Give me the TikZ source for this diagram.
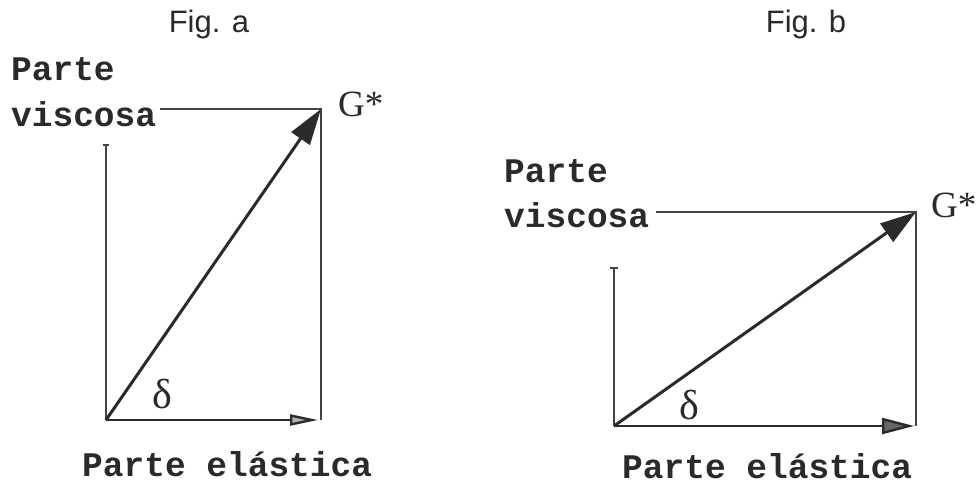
\documentclass[tikz,border=0pt]{standalone}
\usepackage{fontspec}
\setmainfont{Liberation Serif}
\newfontfamily\monof{Liberation Mono}
\newfontfamily\sansf{Liberation Sans}
\usetikzlibrary{arrows.meta,calc}
\definecolor{ink}{HTML}{2A2A2A}
\definecolor{thin}{HTML}{444444}
\begin{document}
\begin{tikzpicture}[x=1pt,y=-1pt,
  monolabel/.style={font=\monof\bfseries\fontsize{34.5}{38}\selectfont, text=ink, inner sep=0pt, anchor=base west},
  figlabel/.style={font=\sansf\fontsize{31}{34}\selectfont, text=ink, inner sep=0pt},
  gstar/.style={font=\fontsize{37}{40}\selectfont, text=ink, inner sep=0pt, anchor=base west},
  delta/.style={font=\fontsize{42}{44}\selectfont, text=ink, inner sep=0pt},
  guide/.style={draw=thin, line width=1.8pt},
  mainarrow/.style={draw=ink, line width=3pt, -{Triangle[length=36pt,width=22pt]}},
  elarrowa/.style={draw=ink, line width=2.4pt, -{Triangle[length=28pt,width=11pt,fill=gray!60]}},
  elarrowb/.style={draw=ink, line width=2.4pt, -{Triangle[length=32pt,width=16pt,fill=gray!80!black]}}
]
\useasboundingbox (0,0) rectangle (977,486);
\fill[white] (0,0) rectangle (977,486);

% ---------- Fig a ----------
\node[figlabel] (figa) at (209,24) {Fig. a};
\node[monolabel] (pa1) at (11,81) {Parte};
\node[monolabel] (pa2) at (11,127) {viscosa};
\node[gstar] (ga) at (338,117) {G*};
\node[delta] (da) at (162,394) {δ};
\node[monolabel] (ea) at (82,476) {Parte elástica};
\coordinate (Oa) at (106,420);
\coordinate (Ga) at (321,109);
\coordinate (Ra) at (321,420);
\coordinate (Ta) at (160,109);
\coordinate (Va) at (106,145);
\coordinate (Ea) at (318,420);
\draw[guide] (Ta) -- (Ga) -- (Ra);
\draw[guide] (Oa) -- (Va);
\draw[guide] ($(Va)+(-3,0)$) -- ($(Va)+(3,0)$);
\draw[elarrowa] (Oa) -- (Ea);
\draw[mainarrow] (Oa) -- (Ga);

% ---------- Fig b ----------
\node[figlabel] (figb) at (806,24) {Fig. b};
\node[monolabel] (pb1) at (504,183) {Parte};
\node[monolabel] (pb2) at (504,228) {viscosa};
\node[gstar] (gb) at (931,218) {G*};
\node[delta] (db) at (689,405) {δ};
\node[monolabel] (eb) at (622,478) {Parte elástica};
\coordinate (Ob) at (614,426);
\coordinate (Gb) at (916,212);
\coordinate (Rb) at (916,426);
\coordinate (Tb) at (656,212);
\coordinate (Vb) at (614,268);
\coordinate (Eb) at (914,426);
\draw[guide] (Tb) -- (Gb) -- (Rb);
\draw[guide] (Ob) -- (Vb);
\draw[guide] ($(Vb)+(-4,0)$) -- ($(Vb)+(4,0)$);
\draw[elarrowb] (Ob) -- (Eb);
\draw[mainarrow] (Ob) -- (Gb);
\end{tikzpicture}
\end{document}
